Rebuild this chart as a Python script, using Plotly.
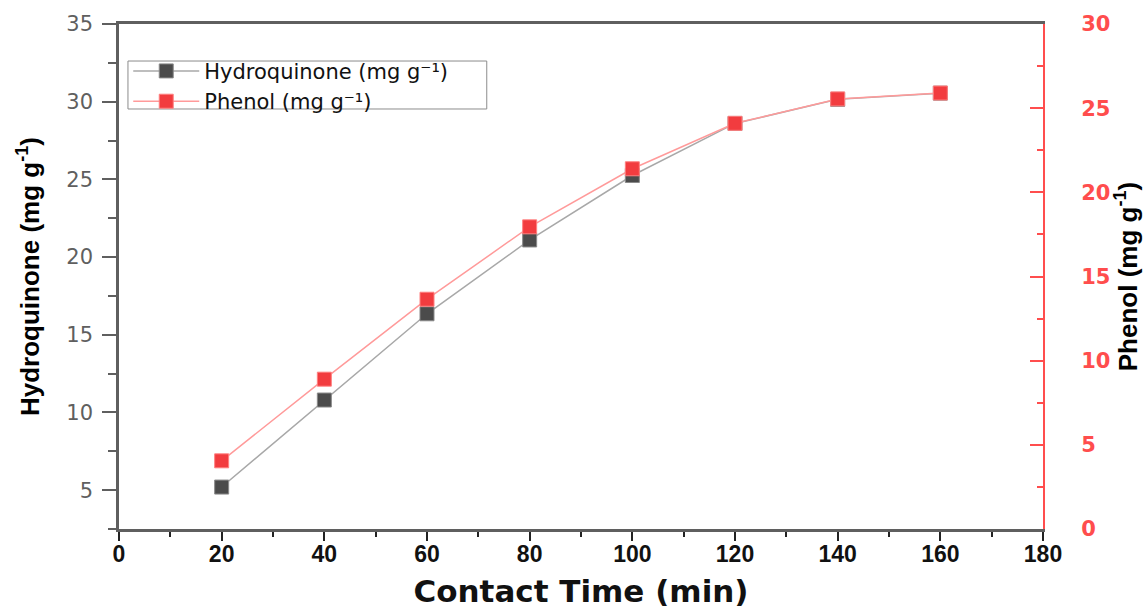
import plotly.graph_objects as go

contact_time = [20, 40, 60, 80, 100, 120, 140, 160]
hydroquinone = [5.2, 10.8, 16.35, 21.1, 25.25, 28.6, 30.15, 30.55]
phenol = [4.05, 8.9, 13.65, 17.95, 21.4, 24.1, 25.55, 25.9]

x_ticks = [0, 20, 40, 60, 80, 100, 120, 140, 160, 180]
left_ticks = [5, 10, 15, 20, 25, 30, 35]
right_ticks = [0, 5, 10, 15, 20, 25, 30]

GRAY = "#5f5f5f"
RED = "#ff4d4d"
SANS = "Liberation Sans, Arial, sans-serif"
WIDE = "DejaVu Sans, Verdana, sans-serif"

fig = go.Figure()
fig.add_trace(go.Scatter(
    x=contact_time, y=hydroquinone, name="Hydroquinone (mg g⁻¹)",
    mode="lines+markers",
    line=dict(color="#a8a8a8", width=1.5),
    marker=dict(symbol="square", size=14, color="#4b4b4b", line=dict(color="#8a8a8a", width=1)),
    yaxis="y", xaxis="x",
))
fig.add_trace(go.Scatter(
    x=contact_time, y=phenol, name="Phenol (mg g⁻¹)",
    mode="lines+markers",
    line=dict(color="#ff9a9a", width=1.5),
    marker=dict(symbol="square", size=14, color="#f23c3f", line=dict(color="#ff8080", width=1)),
    yaxis="y2", xaxis="x",
))

# legend frame (the legend itself is drawn without border)
fig.add_shape(type="rect", xref="paper", yref="paper",
              x0=0.0097, x1=0.398, y0=0.8317, y1=0.9267,
              line=dict(color="#8c8c8c", width=1), fillcolor="rgba(0,0,0,0)", layer="below")

fig.update_layout(
    width=1147, height=609,
    margin=dict(l=119, r=104, t=24, b=80),
    plot_bgcolor="white", paper_bgcolor="white",
    showlegend=True,
    legend=dict(
        x=0.01, y=0.947, xanchor="left", yanchor="top",
        borderwidth=0, bgcolor="rgba(0,0,0,0)",
        font=dict(family=WIDE, size=21, color="#111"),
        tracegroupgap=0, itemwidth=66,
    ),
    xaxis=dict(
        range=[0, 180], tickvals=x_ticks, ticktext=[str(v) for v in x_ticks],
        ticks="outside", ticklen=9, tickwidth=2, tickcolor="#222",
        minor=dict(ticks="outside", ticklen=5, tickwidth=2, tickcolor="#222", dtick=10, tick0=0),
        showline=True, linecolor=GRAY, linewidth=2.5, mirror=True,
        showgrid=False, zeroline=False, automargin=False,
        ticklabelstandoff=-6,
        tickfont=dict(family=SANS, size=23, color="#111", weight="bold"),
        title=dict(text="Contact Time (min)", font=dict(family=WIDE, size=31, color="#111", weight="bold"), standoff=23),
    ),
    xaxis2=dict(
        overlaying="x", side="top", anchor="y", range=[0, 180], tickvals=x_ticks,
        ticks="inside", ticklen=8, tickwidth=2, tickcolor="#222",
        minor=dict(ticks="inside", ticklen=5, tickwidth=2, tickcolor="#222", dtick=10, tick0=0),
        showticklabels=False, showline=False, showgrid=False, zeroline=False, automargin=False,
    ),
    yaxis=dict(
        range=[2.5, 35], tickvals=left_ticks,
        ticks="outside", ticklen=14, tickwidth=2, tickcolor=GRAY,
        minor=dict(ticks="outside", ticklen=8, tickwidth=2, tickcolor=GRAY, dtick=2.5, tick0=0),
        showline=True, linecolor=GRAY, linewidth=2.5,
        showgrid=False, zeroline=False, automargin=False,
        ticklabelstandoff=5,
        tickfont=dict(family=WIDE, size=21, color=GRAY),
        title=dict(text="Hydroquinone (mg g<sup>-1</sup>)", font=dict(family=SANS, size=26, color="#000", weight="bold"), standoff=20),
    ),
    yaxis2=dict(
        overlaying="y", side="right", anchor="x", range=[0, 30], tickvals=right_ticks,
        ticks="inside", ticklen=13, tickwidth=2, tickcolor=RED,
        minor=dict(ticks="inside", ticklen=6, tickwidth=2, tickcolor=RED, dtick=2.5, tick0=0),
        showline=True, linecolor=RED, linewidth=2,
        showgrid=False, zeroline=False, automargin=False,
        ticklabelstandoff=32,
        tickfont=dict(family=WIDE, size=21, color=RED, weight="bold"),
        title=dict(text="Phenol (mg g<sup>-1</sup>)", font=dict(family=SANS, size=26, color="#000", weight="bold"), standoff=5),
    ),
)

fig.write_html("out.html", config={"displayModeBar": False},
               post_script="document.body.style.margin='0';document.body.style.overflow='hidden';")
